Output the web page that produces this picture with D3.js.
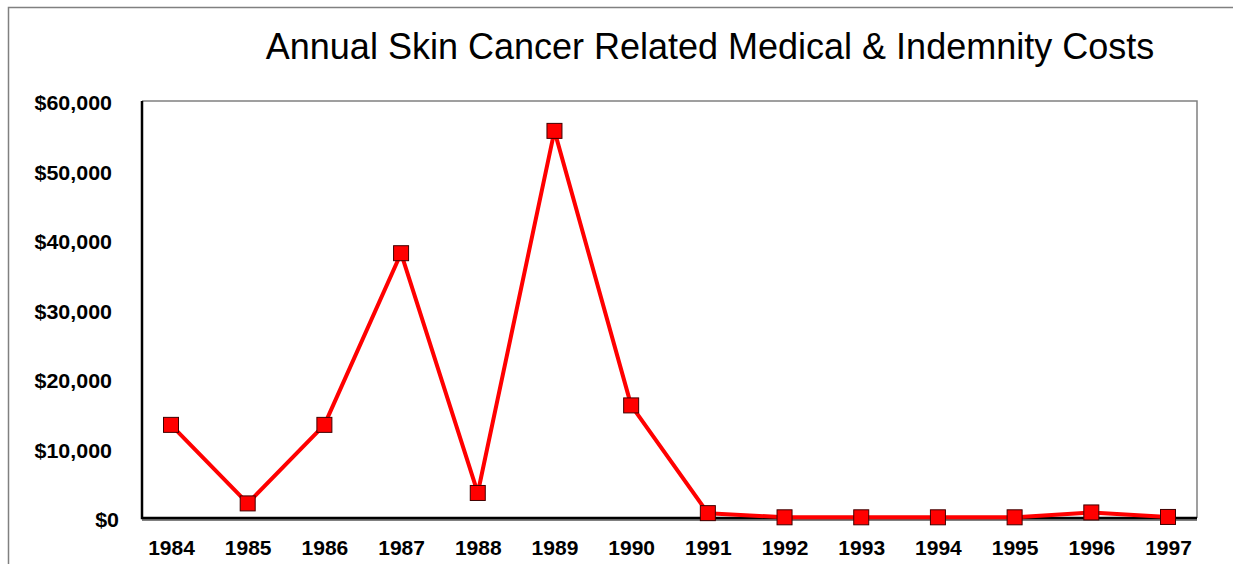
<!DOCTYPE html>
<html>
<head>
<meta charset="utf-8">
<script src="https://cdn.jsdelivr.net/npm/d3@7"></script>
<style>
  body { margin: 0; background: #fff; }
  svg { display: block; font-family: "Liberation Sans", Arial, sans-serif; }
</style>
</head>
<body>
<div id="chart"></div>
<script>
const years = ["1984", "1985", "1986", "1987", "1988", "1989", "1990", "1991", "1992", "1993", "1994", "1995", "1996", "1997"]
const costs = [13400, 2100, 13400, 38100, 3600, 55700, 16200, 700, 100, 100, 100, 100, 800, 150]
const yTicks = [0, 10000, 20000, 30000, 40000, 50000, 60000]
const title = "Annual Skin Cancer Related Medical & Indemnity Costs"

const width = 1233, height = 564
const plot = { left: 142, top: 101, right: 1197, bottom: 518 }

const svg = d3.select("#chart")
              .append("svg")
              .attr("width", width)
              .attr("height", height)

// outer chart frame (only top and left edges visible)
svg.append("path")
   .attr("d", "M8.5," + height + " V7.5 H" + width)
   .attr("fill", "none")
   .attr("stroke", "#808080")
   .attr("stroke-width", 1.5)

svg.append("text")
   .attr("x", 710)
   .attr("y", 59)
   .attr("text-anchor", "middle")
   .attr("font-size", 36)
   .attr("fill", "#000")
   .text(title)

const xScale = d3.scalePoint()
                 .domain(years)
                 .range([plot.left + 29, plot.right - 29])
const yScale = d3.scaleLinear()
                 .domain([0, 60000])
                 .range([plot.bottom, plot.top])

// plot area: thin gray top/right, heavy black left/bottom
svg.append("path")
   .attr("d", "M" + plot.left + "," + plot.top + " H" + plot.right + " V" + plot.bottom)
   .attr("fill", "none")
   .attr("stroke", "#808080")
   .attr("stroke-width", 1.5)
svg.append("line")
   .attr("x1", plot.left).attr("x2", plot.right)
   .attr("y1", plot.bottom + 2).attr("y2", plot.bottom + 2)
   .attr("stroke", "#808080").attr("stroke-width", 2)
svg.append("path")
   .attr("d", "M" + plot.left + "," + plot.top + " V" + plot.bottom + " H" + plot.right)
   .attr("fill", "none")
   .attr("stroke", "#000")
   .attr("stroke-width", 2.5)

const fmt = d3.format(",")
const yAxis = d3.axisLeft(yScale)
                .tickValues(yTicks)
                .tickSize(0)
                .tickFormat(d => "$" + fmt(d))
const gy = svg.append("g")
              .attr("transform", "translate(" + plot.left + ",0)")
              .call(yAxis)
gy.select(".domain").remove()
gy.selectAll("text")
  .attr("x", 0)
  .attr("dy", "0.45em")
  .attr("transform", d => "translate(" + (d === 0 ? -23 : -30) + ",0) scale(1.1,1)")
  .attr("font-size", 19.5)
  .attr("font-weight", "bold")
  .attr("font-family", "Liberation Sans, Arial, sans-serif")
  .attr("fill", "#000")

const xAxis = d3.axisBottom(xScale)
                .tickSize(0)
                .tickPadding(22)
const gx = svg.append("g")
              .attr("transform", "translate(0," + plot.bottom + ")")
              .call(xAxis)
gx.select(".domain").remove()
gx.selectAll("text")
  .attr("font-size", 21)
  .attr("font-weight", "bold")
  .attr("font-family", "Liberation Sans, Arial, sans-serif")
  .attr("fill", "#000")

const line = d3.line()
               .x((d, i) => xScale(years[i]))
               .y(d => yScale(d))
svg.append("path")
   .datum(costs)
   .attr("d", line)
   .attr("fill", "none")
   .attr("stroke", "#ff0000")
   .attr("stroke-width", 4)
   .attr("stroke-linejoin", "round")

const m = 15
svg.selectAll(".marker")
   .data(costs)
   .join("rect")
   .attr("class", "marker")
   .attr("x", (d, i) => xScale(years[i]) - m / 2)
   .attr("y", d => yScale(d) - m / 2)
   .attr("width", m)
   .attr("height", m)
   .attr("fill", "#ff0000")
   .attr("stroke", "#400000")
   .attr("stroke-width", 1)
</script>
</body>
</html>
